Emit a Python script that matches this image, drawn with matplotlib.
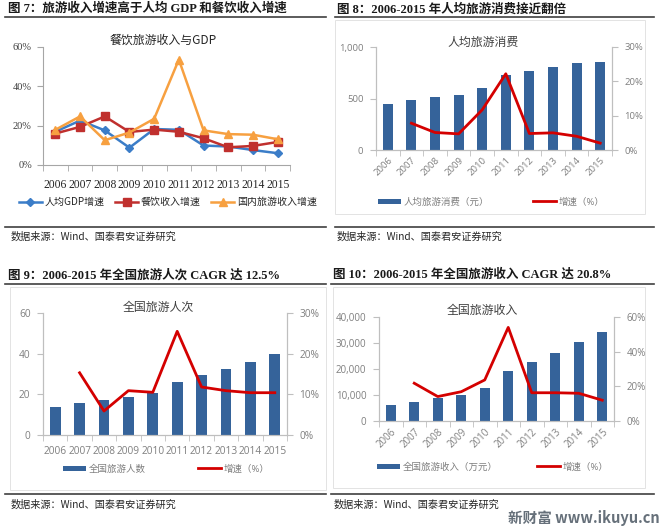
import matplotlib
matplotlib.use("Agg")
import matplotlib.pyplot as plt
from matplotlib.lines import Line2D
from matplotlib.patches import Rectangle
from matplotlib.ticker import FuncFormatter, FixedLocator
import numpy as np

# ---------------- data ----------------
years = ["2006", "2007", "2008", "2009", "2010", "2011", "2012", "2013", "2014", "2015"]

# Fig 7
gdp_pc_growth = [16.9, 22.6, 17.6, 8.8, 18.3, 17.9, 9.9, 9.4, 7.6, 6.0]
catering_growth = [16.0, 19.4, 24.7, 16.8, 18.0, 16.9, 13.6, 9.0, 9.7, 11.7]
tourism_rev_growth = [17.9, 24.7, 12.6, 16.5, 23.5, 53.6, 17.6, 15.7, 15.4, 13.1]

# Fig 8
spend_pc = [447, 483, 511, 535, 598, 731, 768, 806, 840, 857]
spend_pc_growth = [None, 7.8, 5.1, 4.7, 11.7, 22.2, 4.8, 5.0, 4.0, 2.0]

# Fig 9
trips = [13.9, 15.9, 17.0, 18.9, 20.9, 26.2, 29.4, 32.5, 35.9, 39.7]
trips_growth = [None, 15.3, 5.9, 10.9, 10.5, 25.5, 11.8, 10.9, 10.4, 10.4]

# Fig 10
revenue = [6200, 7500, 8750, 10100, 12600, 19300, 22700, 26100, 30400, 34100]
revenue_growth = [None, 21.8, 14.1, 16.9, 23.7, 54.0, 16.3, 16.3, 16.0, 12.0]

headers = ["图 7：旅游收入增速高于人均 GDP 和餐饮收入增速",
           "图 8：2006-2015 年人均旅游消费接近翻倍",
           "图 9：2006-2015 年全国旅游人次 CAGR 达 12.5%",
           "图 10：2006-2015 年全国旅游收入 CAGR 达 20.8%"]
titles = ["餐饮旅游收入与GDP", "人均旅游消费", "全国旅游人次", "全国旅游收入"]
source = "数据来源：Wind、国泰君安证券研究"

# ---------------- figure ----------------
W, H = 660, 531
fig = plt.figure(figsize=(W / 100, H / 100), dpi=100)
fig.patch.set_facecolor("white")

SANS = ["Open Sans", "Noto Sans CJK SC", "DejaVu Sans"]
SERIF = ["Liberation Serif", "Noto Sans CJK SC", "DejaVu Sans"]
CJK = ["Noto Sans CJK SC", "DejaVu Sans"]

BAR = "#35639a"
RED = "#d40000"
GREY = "#7f7f7f"
SPINE = "#bfbfbf"


def px_axes(l, t, r, b):
    return fig.add_axes([l / W, 1 - b / H, (r - l) / W, (b - t) / H])


def ftxt(x, y, s, **kw):
    fig.text(x / W, 1 - y / H, s, **kw)


def hline(x0, x1, y, color="#404040", lw=1.2):
    fig.add_artist(Line2D([x0 / W, x1 / W], [1 - y / H, 1 - y / H],
                          transform=fig.transFigure, color=color, lw=lw))


def box(l, t, r, b):
    fig.add_artist(Rectangle((l / W, 1 - b / H), (r - l) / W, (b - t) / H,
                             transform=fig.transFigure, fill=False,
                             edgecolor="#e3e3e3", lw=0.7))


def pct(v, pos):
    return f"{v:.0f}%"


def comma(v, pos):
    return f"{v:,.0f}"


x = np.arange(len(years))


def style_cat_axis(ax, color):
    ax.set_xlim(-0.5, len(years) - 0.5)
    ax.set_xticks(x)
    ax.tick_params(axis="x", which="major", length=0)
    ax.xaxis.set_minor_locator(FixedLocator(np.arange(-0.5, len(years), 1.0)))
    ax.tick_params(axis="x", which="minor", length=4, color=color, direction="out")


# ---------------- headers / lines / sources ----------------
hdr_kw = dict(family=SERIF, fontweight="bold", fontsize=9, color="#1a1a1a", va="center", ha="left")
ftxt(8, 9, headers[0], **hdr_kw)
ftxt(337, 9, headers[1], **hdr_kw)
ftxt(8, 275, headers[2], **hdr_kw)
ftxt(333, 275, headers[3], **hdr_kw)

hline(5, 326, 17)
hline(335, 654, 17)
hline(5, 326, 284)
hline(331, 654, 284)
hline(5, 326, 227)
hline(335, 654, 227)
hline(5, 326, 494)
hline(331, 654, 494)

src_kw = dict(family=CJK, fontsize=7.3, color="#262626", va="center", ha="left")
ftxt(11, 237, source, **src_kw)
ftxt(337, 237, source, **src_kw)
ftxt(11, 505, source, **src_kw)
ftxt(334, 505, source, **src_kw)

ftxt(508, 518, "新财富 www.ikuyu.cn", family=["Noto Sans CJK SC", "DejaVu Sans"],
     fontweight="bold", fontsize=10.5, color="#66707a", va="center", ha="left")

box(335, 20, 645, 214)
box(10, 287, 326, 490)
box(333, 287, 645, 488)

# ---------------- Fig 7 ----------------
ax1 = px_axes(43, 47, 290, 165)
ax1.plot(x, gdp_pc_growth, color="#3b7dc8", lw=1.8, marker="D", ms=4, label="人均GDP增速")
ax1.plot(x, catering_growth, color="#c0302e", lw=1.8, marker="s", ms=5.5, label="餐饮收入增速")
ax1.plot(x, tourism_rev_growth, color="#f7a040", lw=1.8, marker="^", ms=6, label="国内旅游收入增速")
ax1.set_ylim(0, 60)
ax1.set_yticks([0, 20, 40, 60])
ax1.yaxis.set_major_formatter(FuncFormatter(pct))
style_cat_axis(ax1, "#a6a6a6")
ax1.set_xticklabels(years, family=SERIF, fontsize=8.4, color="#262626")
for lab in ax1.get_yticklabels():
    lab.set_family(SERIF)
ax1.tick_params(axis="y", labelsize=7.5, labelcolor="#404040", length=4, color="#a6a6a6", pad=4)
ax1.tick_params(axis="x", which="major", pad=10)
for s in ["top", "right"]:
    ax1.spines[s].set_visible(False)
for s in ["left", "bottom"]:
    ax1.spines[s].set_color("#a6a6a6")
ax1.set_facecolor("none")
ftxt(163, 40, titles[0], family=CJK, fontsize=8.6, color="#262626", ha="center", va="center")
leg1 = ax1.legend(loc="center", bbox_to_anchor=(168 / W, 1 - 202 / H),
                  bbox_transform=fig.transFigure, ncol=3, frameon=False,
                  prop={"family": CJK, "size": 7.2}, handlelength=2.3,
                  columnspacing=1.0, handletextpad=0.3, labelcolor="#262626")

# ---------------- helper for combo charts ----------------
def combo(axpos, bars, growth, bar_w, ymax, yticks, yfmt, rmax, rticks, rot,
          tick_fs, bar_label, leg_y, leg_x, title, title_xy):
    ax = px_axes(*axpos)
    axr = ax.twinx()
    ax.bar(x, bars, width=bar_w, color=BAR, zorder=2, label=bar_label)
    gx = [i for i, v in enumerate(growth) if v is not None]
    gy = [v for v in growth if v is not None]
    axr.plot(gx, gy, color=RED, lw=2.0, label="增速（%）", zorder=3)
    ax.set_ylim(0, ymax)
    ax.set_yticks(yticks)
    ax.yaxis.set_major_formatter(FuncFormatter(yfmt))
    axr.set_ylim(0, rmax)
    axr.set_yticks(rticks)
    axr.yaxis.set_major_formatter(FuncFormatter(pct))
    style_cat_axis(ax, SPINE)
    if rot:
        ax.set_xticklabels(years, rotation=45, ha="right", va="top",
                           rotation_mode="anchor", family=SANS, fontsize=tick_fs, color=GREY)
        ax.tick_params(axis="x", which="major", pad=4)
    else:
        ax.set_xticklabels(years, family=SANS, fontsize=tick_fs, color=GREY)
        ax.tick_params(axis="x", which="major", pad=8)
    for a in (ax, axr):
        a.spines["top"].set_visible(False)
        for s in ["left", "right", "bottom"]:
            a.spines[s].set_color(SPINE)
        for lab in a.get_yticklabels():
            lab.set_family(SANS)
        a.tick_params(axis="y", labelsize=tick_fs, labelcolor=GREY, length=4,
                      color=SPINE, pad=5)
    ax.set_zorder(1)
    axr.set_zorder(2)
    axr.patch.set_visible(False)
    ax.set_facecolor("none")
    ftxt(title_xy[0], title_xy[1], title, family=CJK, fontsize=8.6,
         color="#404040", ha="center", va="center")
    h1, l1 = ax.get_legend_handles_labels()
    h2, l2 = axr.get_legend_handles_labels()
    axr.legend([h1[0]], [l1[0]], loc="center left",
               bbox_to_anchor=(leg_x[0] / W, 1 - leg_y / H), bbox_transform=fig.transFigure,
               frameon=False, prop={"family": SANS, "size": 6.8}, labelcolor=GREY,
               handlelength=2.4, handleheight=0.5, handletextpad=0.3, borderaxespad=0, borderpad=0)
    fig.legend([h2[0]], [l2[0]], loc="center left",
               bbox_to_anchor=(leg_x[1] / W, 1 - leg_y / H),
               frameon=False, prop={"family": SANS, "size": 6.8}, labelcolor=GREY,
               handlelength=2.4, handletextpad=0.3, borderaxespad=0, borderpad=0)
    return ax, axr


combo((376, 47, 612, 150), spend_pc, spend_pc_growth, 0.42, 1000, [0, 500, 1000], comma,
      30, [0, 10, 20, 30], True, 6.8, "人均旅游消费（元）", 202, (378, 533),
      titles[1], (483, 42))

combo((43, 313, 287, 435), trips, trips_growth, 0.45, 60, [0, 20, 40, 60],
      lambda v, p: f"{v:.0f}", 30, [0, 10, 20, 30], False, 7.3, "全国旅游人数", 469, (63, 198),
      titles[2], (158, 307))

combo((379, 317, 614, 421), revenue, revenue_growth, 0.42, 40000,
      [0, 10000, 20000, 30000, 40000], comma, 60, [0, 20, 40, 60], True, 7.0,
      "全国旅游收入（万元）", 467, (377, 537), titles[3], (482, 310))

fig.savefig("out.png", dpi=100, facecolor="white")
